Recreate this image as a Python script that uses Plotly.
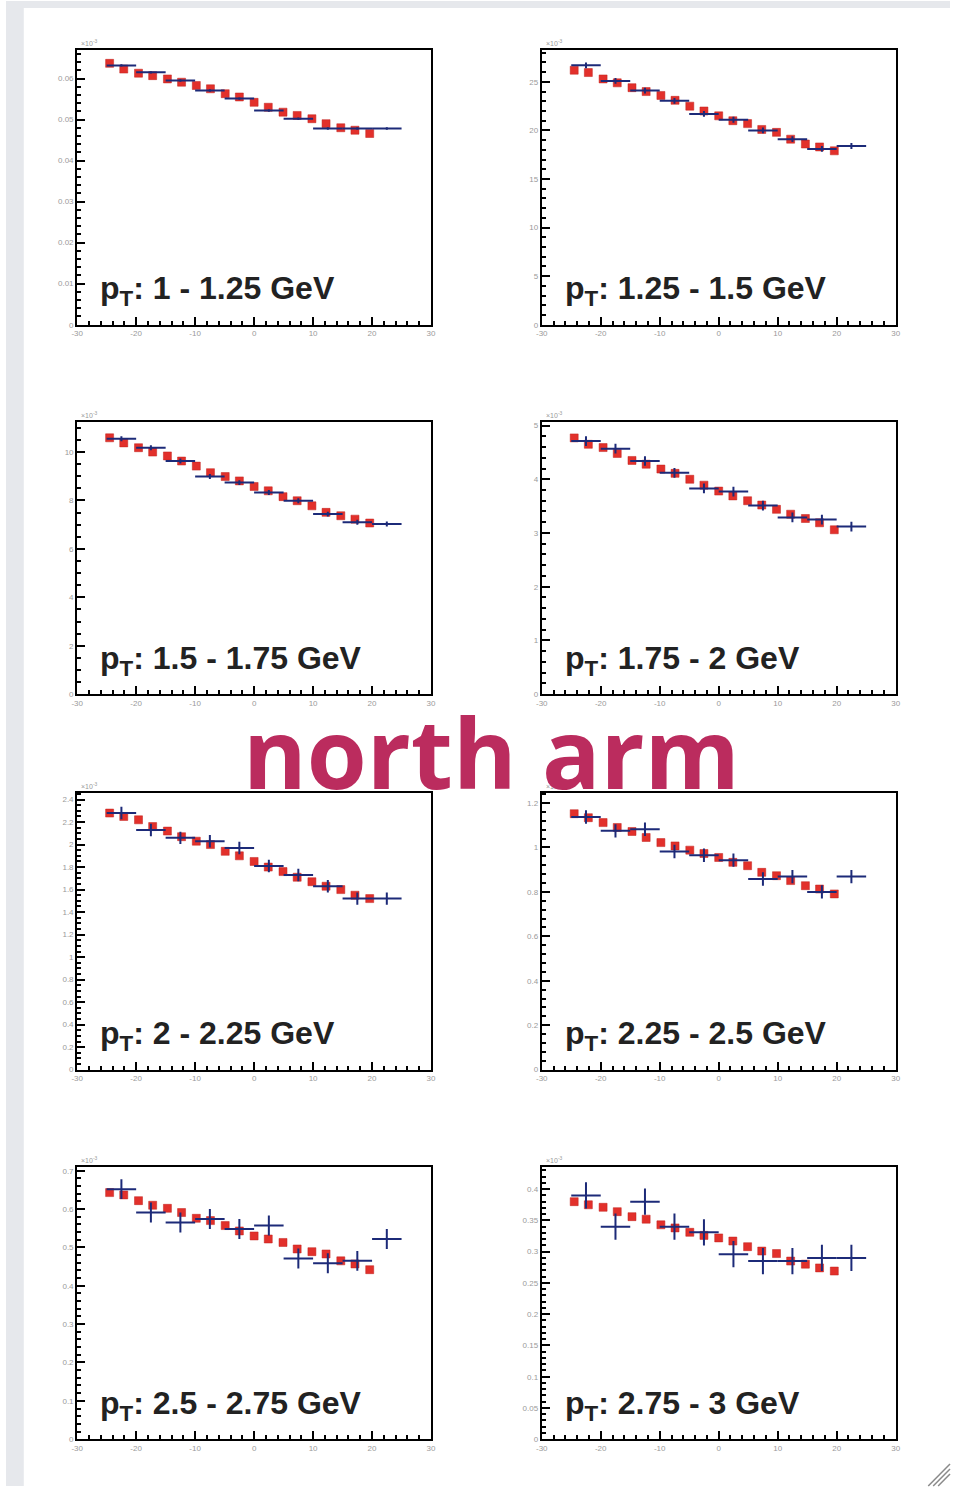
import plotly.graph_objects as go
from plotly.subplots import make_subplots

W, H = 955, 1491

# ---- data -------------------------------------------------------------
# fine-binned measurement (red squares), shared x positions
red_x = [-24.5, -22.1, -19.6, -17.2, -14.7, -12.3, -9.8, -7.4, -4.9, -2.5,
         0.0, 2.4, 4.9, 7.3, 9.8, 12.2, 14.7, 17.1, 19.6]
# coarse bins (blue crosses): centres and half width
blue_x = [-22.5, -17.5, -12.5, -7.5, -2.5, 2.5, 7.5, 12.5, 17.5, 22.5]
blue_halfwidth = 2.5

pt_labels = ["1 - 1.25", "1.25 - 1.5", "1.5 - 1.75", "1.75 - 2",
             "2 - 2.25", "2.25 - 2.5", "2.5 - 2.75", "2.75 - 3"]

red_pt1 = [0.0637, 0.0623, 0.0613, 0.0607, 0.0599, 0.0591, 0.0583, 0.0575, 0.0563, 0.0555,
           0.0542, 0.0530, 0.0518, 0.0510, 0.0502, 0.0490, 0.0480, 0.0474, 0.0466]
blue_pt1 = [0.0632, 0.0615, 0.0595, 0.0571, 0.0551, 0.0522, 0.0502, 0.0478, 0.0478, 0.0478]
err_pt1 = 0.0003

red_pt2 = [26.2, 25.96, 25.3, 24.9, 24.4, 24.0, 23.6, 23.1, 22.5, 22.0,
           21.5, 21.0, 20.7, 20.1, 19.8, 19.1, 18.6, 18.3, 17.9]
blue_pt2 = [26.7, 25.1, 24.1, 23.05, 21.7, 21.1, 20.0, 19.1, 18.1, 18.4]
err_pt2 = 0.3

red_pt3 = [10.59, 10.38, 10.18, 10.0, 9.84, 9.63, 9.42, 9.15, 8.99, 8.81,
           8.58, 8.40, 8.16, 7.99, 7.78, 7.51, 7.37, 7.23, 7.07]
blue_pt3 = [10.55, 10.18, 9.63, 8.99, 8.74, 8.33, 7.99, 7.44, 7.10, 7.03]
err_pt3 = 0.1

red_pt4 = [4.77, 4.65, 4.59, 4.48, 4.35, 4.28, 4.19, 4.11, 4.0, 3.89,
           3.78, 3.69, 3.60, 3.52, 3.44, 3.35, 3.27, 3.19, 3.06]
blue_pt4 = [4.71, 4.57, 4.34, 4.12, 3.83, 3.77, 3.51, 3.29, 3.25, 3.12]
err_pt4 = 0.09

red_pt5 = [2.28, 2.25, 2.22, 2.16, 2.12, 2.07, 2.03, 2.0, 1.94, 1.90,
           1.85, 1.80, 1.76, 1.71, 1.67, 1.63, 1.60, 1.55, 1.52]
blue_pt5 = [2.28, 2.13, 2.06, 2.03, 1.97, 1.81, 1.73, 1.63, 1.52, 1.52]
err_pt5 = 0.055

red_pt6 = [1.152, 1.134, 1.112, 1.09, 1.072, 1.045, 1.022, 1.007, 0.988, 0.973,
           0.955, 0.933, 0.918, 0.888, 0.873, 0.851, 0.828, 0.813, 0.791]
blue_pt6 = [1.137, 1.075, 1.082, 0.982, 0.965, 0.943, 0.858, 0.869, 0.800, 0.869]
err_pt6 = 0.03

red_pt7 = [0.643, 0.637, 0.622, 0.610, 0.602, 0.591, 0.576, 0.570, 0.557, 0.543,
           0.530, 0.522, 0.513, 0.496, 0.489, 0.483, 0.465, 0.457, 0.442]
blue_pt7 = [0.652, 0.591, 0.565, 0.574, 0.548, 0.557, 0.471, 0.459, 0.465, 0.522]
err_pt7 = 0.026

red_pt8 = [0.380, 0.375, 0.371, 0.364, 0.356, 0.352, 0.343, 0.338, 0.331, 0.326,
           0.322, 0.317, 0.308, 0.301, 0.297, 0.285, 0.280, 0.274, 0.269]
blue_pt8 = [0.390, 0.340, 0.380, 0.340, 0.331, 0.296, 0.285, 0.285, 0.290, 0.290]
err_pt8 = 0.021

# y-axis: upper limit, major tick values / labels, minor step
y_top = [0.067, 28.3, 11.23, 5.06, 2.46, 1.246, 0.709, 0.435]
y_tickvals = [
    [0, 0.01, 0.02, 0.03, 0.04, 0.05, 0.06],
    [0, 5, 10, 15, 20, 25],
    [0, 2, 4, 6, 8, 10],
    [0, 1, 2, 3, 4, 5],
    [0, 0.2, 0.4, 0.6, 0.8, 1.0, 1.2, 1.4, 1.6, 1.8, 2.0, 2.2, 2.4],
    [0, 0.2, 0.4, 0.6, 0.8, 1.0, 1.2],
    [0, 0.1, 0.2, 0.3, 0.4, 0.5, 0.6, 0.7],
    [0, 0.05, 0.1, 0.15, 0.2, 0.25, 0.3, 0.35, 0.4],
]
y_ticktext = [
    ["0", "0.01", "0.02", "0.03", "0.04", "0.05", "0.06"],
    ["0", "5", "10", "15", "20", "25"],
    ["0", "2", "4", "6", "8", "10"],
    ["0", "1", "2", "3", "4", "5"],
    ["0", "0.2", "0.4", "0.6", "0.8", "1", "1.2", "1.4", "1.6", "1.8", "2", "2.2", "2.4"],
    ["0", "0.2", "0.4", "0.6", "0.8", "1", "1.2"],
    ["0", "0.1", "0.2", "0.3", "0.4", "0.5", "0.6", "0.7"],
    ["0", "0.05", "0.1", "0.15", "0.2", "0.25", "0.3", "0.35", "0.4"],
]
y_minor = [0.002, 1, 0.5, 0.2, 0.05, 0.04, 0.02, 0.01]

x_tickvals = [-30, -20, -10, 0, 10, 20, 30]
x_ticktext = ["-30", "-20", "-10", "0", "10", "20", "30"]

red_all = [red_pt1, red_pt2, red_pt3, red_pt4, red_pt5, red_pt6, red_pt7, red_pt8]
blue_all = [blue_pt1, blue_pt2, blue_pt3, blue_pt4, blue_pt5, blue_pt6, blue_pt7, blue_pt8]
err_all = [err_pt1, err_pt2, err_pt3, err_pt4, err_pt5, err_pt6, err_pt7, err_pt8]

# ---- layout geometry (pixels) ------------------------------------------
col_px = [(72, 430), (542, 900)]
row_px = [(49, 325), (423, 696), (795, 1073), (1171, 1444)]

RED = "#e2302b"
BLUE = "#1c2a78"
INK = "#222222"
TICKGREY = "#9a9a9a"
BACKDROP = "#e6e8ec"

fig = make_subplots(rows=4, cols=2)

for i in range(8):
    r, c = i // 2 + 1, i % 2 + 1
    fig.add_trace(go.Scatter(
        x=red_x, y=red_all[i], mode="markers",
        marker=dict(symbol="square", size=8, color=RED,
                    line=dict(width=0.5, color="#c0201c")),
        showlegend=False, hoverinfo="skip"), row=r, col=c)
    fig.add_trace(go.Scatter(
        x=blue_x, y=blue_all[i], mode="markers",
        marker=dict(size=1, color=BLUE, opacity=0),
        error_x=dict(type="constant", value=blue_halfwidth, width=0,
                     thickness=2, color=BLUE),
        error_y=dict(type="constant", value=err_all[i], width=0,
                     thickness=2, color=BLUE),
        showlegend=False, hoverinfo="skip"), row=r, col=c)

axis_common = dict(showline=True, mirror=True, linecolor="black", linewidth=2,
                   showgrid=False, zeroline=False, ticks="inside",
                   tickcolor="black", tickwidth=2, ticklen=8,
                   tickfont=dict(family="Liberation Sans", size=8, color=TICKGREY))

annotations = []
for i in range(8):
    r, c = i // 2, i % 2
    x0, x1 = col_px[c]
    y0, y1 = row_px[r]
    n = i + 1
    xa = "xaxis" if n == 1 else f"xaxis{n}"
    ya = "yaxis" if n == 1 else f"yaxis{n}"
    fig.layout[xa].update(
        domain=[x0 / W, x1 / W], range=[-30, 30],
        tickmode="array", tickvals=x_tickvals, ticktext=x_ticktext,
        minor=dict(ticks="inside", ticklen=4, tickwidth=2, tickcolor="black",
                   dtick=2, tick0=-30, showgrid=False),
        **axis_common)
    fig.layout[ya].update(
        domain=[1 - y1 / H, 1 - y0 / H], range=[0, y_top[i]],
        tickmode="array", tickvals=y_tickvals[i], ticktext=y_ticktext[i],
        minor=dict(ticks="inside", ticklen=4, tickwidth=2, tickcolor="black",
                   dtick=y_minor[i], tick0=0, showgrid=False),
        **axis_common)

    # p_T bin label
    annotations.append(dict(
        x=(x0 + 21) / W, y=1 - (y1 - 34) / H, xref="paper", yref="paper",
        xanchor="left", yanchor="middle", showarrow=False,
        text=f"<b>p<sub>T</sub>: {pt_labels[i]} GeV</b>",
        font=dict(family="Liberation Sans", size=32, color=INK)))
    # exponent marker above the y axis
    annotations.append(dict(
        x=(x0 + 2) / W, y=1 - (y0 - 1) / H, xref="paper", yref="paper",
        xanchor="left", yanchor="bottom", showarrow=False,
        text="×10<sup>-3</sup>",
        font=dict(family="Liberation Sans", size=7, color=TICKGREY)))

annotations.append(dict(
    x=491 / W, y=1 - 753 / H, xref="paper", yref="paper",
    xanchor="center", yanchor="middle", showarrow=False,
    text="<b>north arm</b>",
    font=dict(family="Open Sans", size=97, color="#bb2c5e")))

shapes = [
    # grey backdrop bands along the top and left edges
    dict(type="rect", xref="paper", yref="paper", layer="below",
         x0=0, x1=1, y0=1 - 7 / H, y1=1,
         fillcolor=BACKDROP, line=dict(width=0)),
    dict(type="rect", xref="paper", yref="paper", layer="below",
         x0=0, x1=18 / W, y0=0, y1=1,
         fillcolor=BACKDROP, line=dict(width=0)),
]
# page-corner strokes in the bottom right
for k in range(3):
    shapes.append(dict(type="line", xref="paper", yref="paper",
                       x0=(933 + 5 * k) / W, y0=0,
                       x1=1, y1=(22 - 5 * k) / H,
                       line=dict(color="#8a8a8a", width=1.5)))

fig.update_layout(
    width=W, height=H, margin=dict(l=0, r=0, t=0, b=0),
    paper_bgcolor="white", plot_bgcolor="white",
    annotations=annotations, shapes=shapes, showlegend=False)

# pin the figure to the page corner so nothing scrolls
fig.write_html(
    "out.html",
    post_script="document.body.style.margin='0';"
                "document.body.style.overflow='hidden';")
